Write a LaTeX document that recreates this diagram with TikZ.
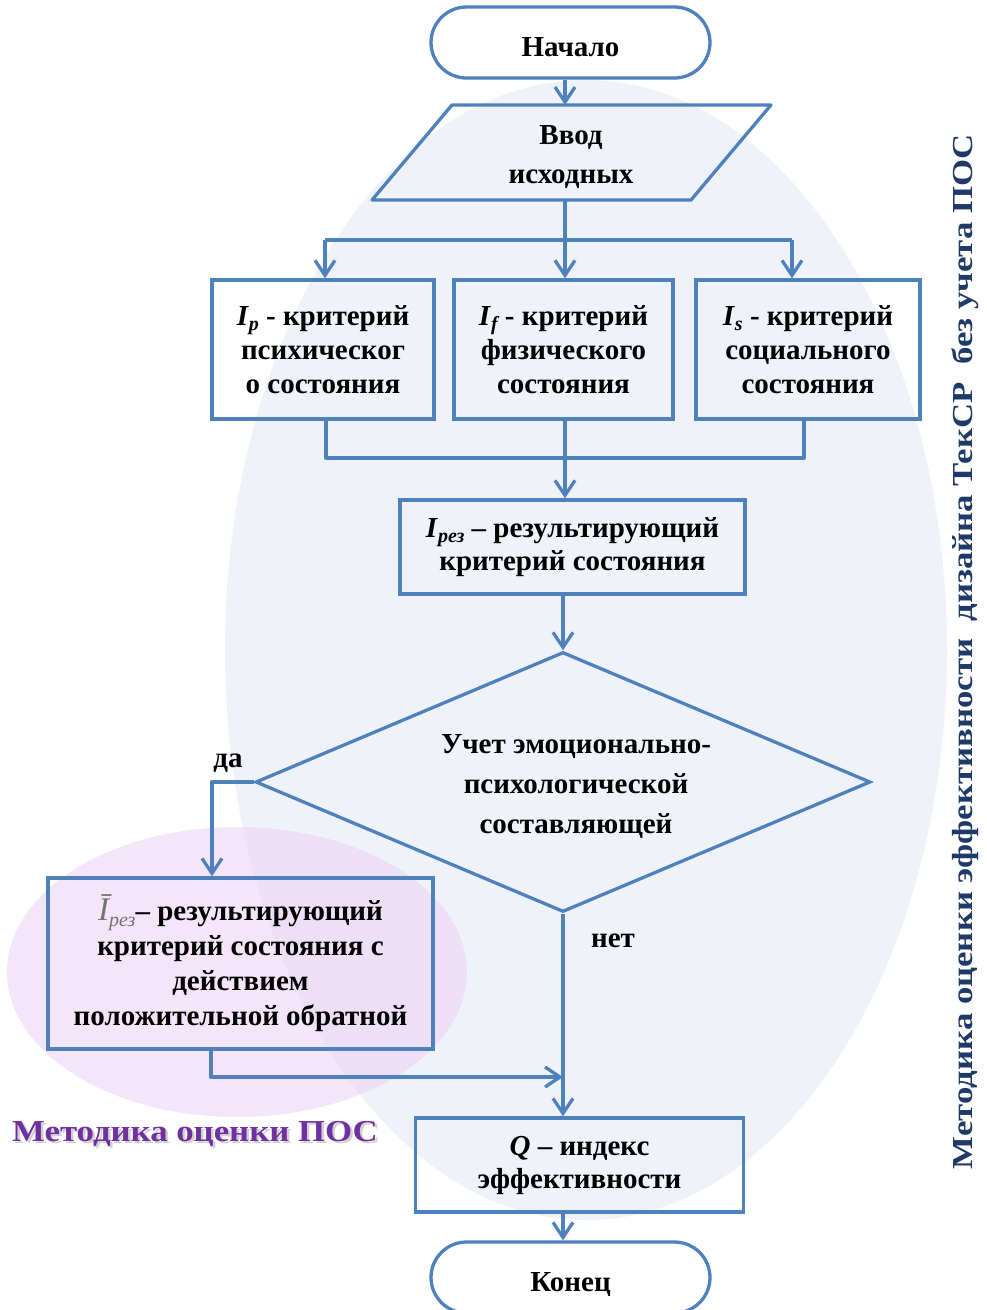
\documentclass[tikz,border=0pt]{standalone}
\usepackage{fontspec}
\setmainfont{Liberation Serif}
\usetikzlibrary{shapes.geometric,shapes.misc,arrows.meta,calc}

\definecolor{flow}{RGB}{79,129,189}
\definecolor{bluebg}{RGB}{239,243,249}
\definecolor{pinkbg}{RGB}{235,208,245}
\definecolor{posviolet}{RGB}{112,48,160}
\definecolor{sidetext}{RGB}{31,58,104}

% text size 29pt with a chosen leading
\newcommand\bodyfont[1]{\bfseries\fontsize{29}{#1}\selectfont}
% lowered index after a letter
\newcommand\lowidx[1]{\raisebox{-0.35ex}{\fontsize{20}{20}\selectfont\itshape #1}}

\tikzset{
  flowline/.style={draw=flow, line width=3.3pt, line join=round},
  flowarrow/.style={flowline, -{Straight Barb[length=15pt,width=20pt]}},
  procbox/.style={draw=flow, line width=3.3pt, rectangle, inner sep=0pt, align=center},
  termbox/.style={procbox, rounded rectangle, minimum width=279pt, minimum height=71pt,
    text height=27pt, text depth=0pt, font=\bodyfont{34}},
  plain/.style={inner sep=0pt, align=center},
}

\begin{document}
\begin{tikzpicture}[x=1pt,y=-1pt]
  \useasboundingbox (0,0) rectangle (986,1310);
  \clip (0,0) rectangle (986,1310);
  \fill[white] (0,0) rectangle (986,1310);

  % background ellipses
  \fill[bluebg] (586,650) ellipse [x radius=361, y radius=570];
  \fill[pinkbg, opacity=0.55] (237,972) ellipse [x radius=230, y radius=145];

  % terminals
  \node[termbox] (start) at (570.5,42.5) {Начало};
  \node[termbox] (finish) at (570.5,1277.5) {Конец};

  % input parallelogram
  \coordinate (inTop) at (565,105);
  \coordinate (inBot) at (565,200);
  \draw[flowline] (452,105) -- (771,105) -- (691,200) -- (372,200) -- cycle;
  \node[plain, font=\bodyfont{39}] (input) at (571,157) {Ввод\\исходных};

  % three criteria
  \node[procbox, minimum width=222pt, minimum height=139pt, font=\bodyfont{34}] (ps) at (323,349.5)
    {\textit{I}\lowidx{p} - критерий\\психическог\\о состояния};
  \node[procbox, minimum width=219pt, minimum height=139pt, font=\bodyfont{34}] (fi) at (563.5,349.5)
    {\textit{I}\lowidx{f} - критерий\\физического\\состояния};
  \node[procbox, minimum width=224pt, minimum height=139pt, font=\bodyfont{34}] (so) at (808,349.5)
    {\textit{I}\lowidx{s} - критерий\\социального\\состояния};

  % resulting criterion
  \node[procbox, minimum width=345pt, minimum height=94pt, font=\bodyfont{33}] (res) at (572.5,547)
    {\textit{I}\lowidx{рез} – результирующий\\критерий состояния};

  % decision
  \node[draw=flow, line width=3.3pt, diamond, inner sep=0pt, minimum width=615pt, minimum height=260pt] (dec) at (563,782) {};
  \node[plain, font=\bodyfont{40}] (dectext) at (576,787)
    {Учет эмоционально-\\психологической\\составляющей};
  \node[plain, font=\bodyfont{34}] (yes) at (228,763) {да};
  \node[plain, font=\bodyfont{34}] (no) at (613,941) {нет};

  % feedback criterion
  \node[procbox, minimum width=385pt, minimum height=171pt, font=\bodyfont{35}] (pos) at (240.5,963.5)
    {{\color{black!55}\mdseries\itshape\fontsize{33}{35}\selectfont Ī\lowidx{рез}}– результирующий\\критерий состояния с\\действием\\положительной обратной};

  % efficiency index
  \node[procbox, minimum width=328pt, minimum height=94pt, font=\bodyfont{33}] (q) at (579.5,1165)
    {\textit{Q} – индекс\\эффективности};

  % titles
  \node[plain, font=\bodyfont{34}, text=black!40, opacity=0.45] at (197.5,1136.5)
    {\scalebox{1.2}[1.05]{Методика оценки ПОС}};
  \node[plain, font=\bodyfont{34}, text=posviolet] (title) at (195,1134)
    {\scalebox{1.2}[1.05]{Методика оценки ПОС}};
  \node[plain, font=\bodyfont{34}, text=sidetext, rotate=90] (side) at (965,651.5)
    {\scalebox{1.2}[1]{Методика оценки эффективности\ \ дизайна ТекСР\ \ без учета ПОС}};

  % connectors
  \coordinate (upAxis) at (565,0);
  \coordinate (busL) at (325,240);
  \coordinate (busR) at (792,240);
  \coordinate (joinL) at (326,458);
  \coordinate (joinR) at (804,458);
  \coordinate (yesC) at (212,782);
  \coordinate (fbC) at (211,1077);

  \draw[flowarrow] (start.south -| upAxis) -- (inTop);
  \draw[flowarrow] (inBot) -- (fi.north -| upAxis);
  \draw[flowline] (busL) -- (busR);
  \draw[flowarrow] (busL) -- (busL |- ps.north);
  \draw[flowarrow] (busR) -- (busR |- so.north);

  \draw[flowline] (ps.south -| joinL) -- (joinL) -- (joinR) -- (so.south -| joinR);
  \draw[flowline] (fi.south -| upAxis) -- (upAxis |- joinL);
  \draw[flowarrow] (upAxis |- joinL) -- (res.north -| upAxis);
  \draw[flowarrow] (res.south -| dec.north) -- (dec.north);

  \draw[flowarrow] (dec.west) -- (yesC) -- (yesC |- pos.north);
  \draw[flowarrow] (dec.south) -- (dec.south |- q.north);
  \draw[flowarrow] (pos.south -| fbC) -- (fbC) -- (fbC -| dec.south);
  \draw[flowarrow] (q.south -| dec.south) -- (finish.north -| dec.south);
\end{tikzpicture}
\end{document}
